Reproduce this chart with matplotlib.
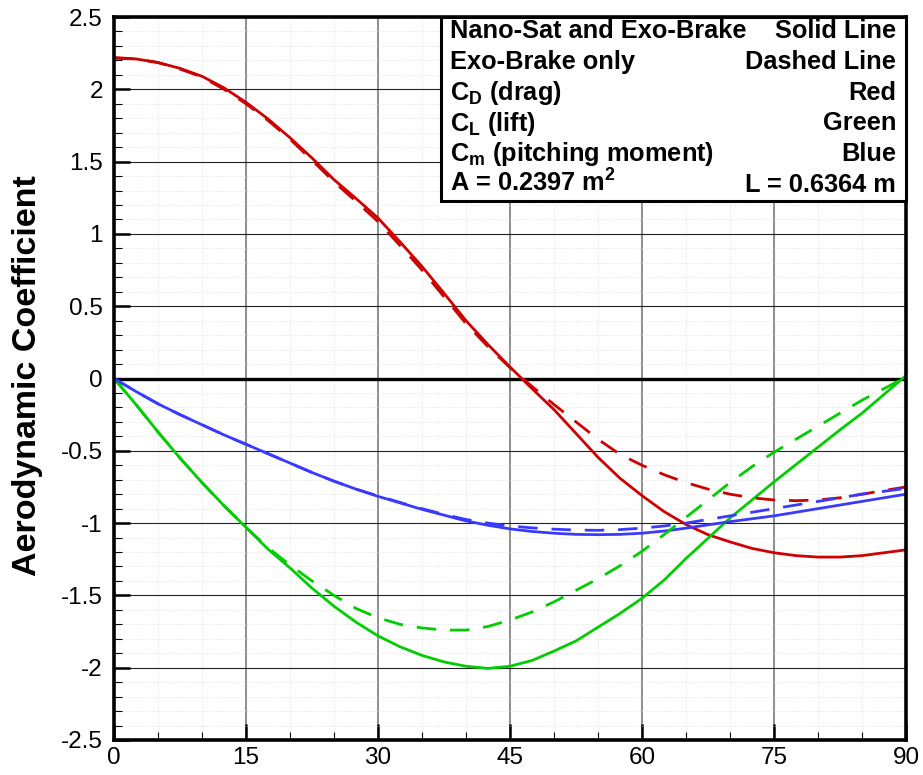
import matplotlib
matplotlib.use("Agg")
import matplotlib.pyplot as plt
from matplotlib.patches import Rectangle
from matplotlib.ticker import MultipleLocator, FixedLocator

plt.rcParams['font.family'] = ['Liberation Sans', 'DejaVu Sans']
plt.rcParams['mathtext.default'] = 'regular'

# angle of attack (deg)
alpha = [0, 2.5, 5, 7.5, 10, 12.5, 15, 17.5, 20, 22.5, 25, 27.5, 30, 32.5, 35, 37.5,
         40, 42.5, 45, 47.5, 50, 52.5, 55, 57.5, 60, 62.5, 65, 67.5, 70, 72.5, 75,
         77.5, 80, 82.5, 85, 87.5, 90]

# Nano-Sat and Exo-Brake (solid)
cd_full = [2.215, 2.21, 2.185, 2.145, 2.09, 2.01, 1.91, 1.795, 1.665, 1.525, 1.375,
           1.245, 1.11, 0.945, 0.775, 0.59, 0.40, 0.235, 0.08, -0.07, -0.215, -0.38,
           -0.545, -0.69, -0.81, -0.92, -1.01, -1.08, -1.13, -1.175, -1.205, -1.225,
           -1.235, -1.235, -1.225, -1.205, -1.185]
cl_full = [0.0, -0.18, -0.37, -0.55, -0.72, -0.88, -1.03, -1.18, -1.31, -1.45, -1.575,
           -1.685, -1.78, -1.855, -1.915, -1.96, -1.99, -2.005, -1.99, -1.95, -1.885,
           -1.815, -1.72, -1.625, -1.52, -1.395, -1.245, -1.105, -0.965, -0.84,
           -0.715, -0.595, -0.475, -0.355, -0.24, -0.11, 0.02]
cm_full = [0.0, -0.09, -0.175, -0.25, -0.32, -0.39, -0.455, -0.52, -0.585, -0.65,
           -0.71, -0.765, -0.815, -0.86, -0.905, -0.945, -0.985, -1.015, -1.04,
           -1.058, -1.07, -1.078, -1.08, -1.078, -1.07, -1.055, -1.035, -1.012,
           -0.99, -0.97, -0.95, -0.925, -0.90, -0.875, -0.85, -0.825, -0.80]

# Exo-Brake only (dashed)
cd_exo = [2.22, 2.21, 2.185, 2.14, 2.085, 2.0, 1.90, 1.785, 1.655, 1.51, 1.36,
          1.225, 1.085, 0.92, 0.75, 0.565, 0.38, 0.22, 0.075, -0.055, -0.18, -0.30,
          -0.42, -0.525, -0.60, -0.665, -0.72, -0.765, -0.80, -0.825, -0.84, -0.845,
          -0.84, -0.825, -0.80, -0.775, -0.75]
cl_exo = [0.0, -0.18, -0.37, -0.55, -0.72, -0.88, -1.03, -1.17, -1.29, -1.40, -1.50,
          -1.59, -1.655, -1.70, -1.725, -1.74, -1.74, -1.715, -1.67, -1.615, -1.545,
          -1.465, -1.385, -1.295, -1.195, -1.08, -0.96, -0.84, -0.72, -0.61, -0.51,
          -0.42, -0.33, -0.24, -0.15, -0.07, 0.01]
cm_exo = [0.0, -0.09, -0.175, -0.25, -0.32, -0.39, -0.455, -0.52, -0.585, -0.65,
          -0.71, -0.765, -0.812, -0.857, -0.90, -0.94, -0.975, -1.0, -1.02, -1.033,
          -1.042, -1.048, -1.05, -1.045, -1.035, -1.02, -1.0, -0.975, -0.95, -0.925,
          -0.90, -0.875, -0.85, -0.825, -0.80, -0.78, -0.76]

x_ticks = [0, 15, 30, 45, 60, 75, 90]
y_ticks = [-2.5, -2, -1.5, -1, -0.5, 0, 0.5, 1, 1.5, 2, 2.5]
y_tick_labels = ['-2.5', '-2', '-1.5', '-1', '-0.5', '0', '0.5', '1', '1.5', '2', '2.5']

legend_left = ['Nano-Sat and Exo-Brake', 'Exo-Brake only', 'C$_D$ (drag)',
               'C$_L$ (lift)', 'C$_m$ (pitching moment)', 'A = 0.2397 m$^2$']
legend_right = ['Solid Line', 'Dashed Line', 'Red', 'Green', 'Blue', 'L = 0.6364 m']

RED = '#cc0000'
GREEN = '#00cc00'
BLUE = '#3a3aff'

W, H = 923, 775
fig = plt.figure(figsize=(W / 100, H / 100), dpi=100)
ax = fig.add_axes([114 / W, 1 - 740 / H, 792 / W, 723 / H])

ax.set_xlim(0, 90)
ax.set_ylim(-2.5, 2.5)

lw = 2.0
dash = (7, 5)
ax.plot(alpha, cd_full, color=RED, lw=lw, zorder=4)
ax.plot(alpha, cl_full, color=GREEN, lw=lw, zorder=4)
ax.plot(alpha, cm_full, color=BLUE, lw=lw, zorder=4)
ax.plot(alpha, cd_exo, color=RED, lw=lw, dashes=dash, zorder=4)
ax.plot(alpha, cl_exo, color=GREEN, lw=lw, dashes=dash, zorder=4)
ax.plot(alpha, cm_exo, color=BLUE, lw=lw, dashes=dash, zorder=4)

ax.axhline(0, color='black', lw=2.4, zorder=3)

ax.xaxis.set_major_locator(FixedLocator(x_ticks))
ax.xaxis.set_minor_locator(MultipleLocator(5))
ax.yaxis.set_major_locator(FixedLocator(y_ticks))
ax.set_yticklabels(y_tick_labels)
ax.yaxis.set_minor_locator(MultipleLocator(0.1))

ax.grid(which='minor', color='#dcdcdc', ls=':', lw=0.6, zorder=1)
ax.xaxis.grid(which='major', color='#7a7a7a', lw=1.2, zorder=2)
ax.yaxis.grid(which='major', color='#222222', lw=0.8, zorder=2)

for s in ax.spines.values():
    s.set_linewidth(2.6)
    s.set_zorder(6)

ax.tick_params(which='major', direction='in', length=11.5, width=1.8,
               labelsize=17.5, top=False, right=False)
ax.tick_params(which='minor', direction='in', length=5.5, width=0.8,
               top=False, right=False)
ax.tick_params(axis='y', which='major', pad=8)
ax.tick_params(axis='x', which='major', pad=5)

fig.text(28 / W, 1 - 376 / H, 'Aerodynamic Coefficient', rotation=90,
         ha='center', va='center', fontsize=24.5, fontweight='bold')

# text box
box_l = (441 - 114) / 792
box_b = (740 - 201) / 723
ax.add_patch(Rectangle((box_l, box_b), 1 - box_l, 1 - box_b, transform=ax.transAxes,
                       facecolor='white', edgecolor='black', lw=2.2, zorder=7,
                       clip_on=False))
baselines = [38.5, 69, 100, 130.5, 161, 191.5]
for left, right, b in zip(legend_left, legend_right, baselines):
    yy = (740 - b) / 723
    ax.text((450 - 114) / 792, yy, left, transform=ax.transAxes, ha='left',
            va='baseline', fontsize=18.3, fontweight='bold', zorder=8)
    ax.text((896 - 114) / 792, yy, right, transform=ax.transAxes, ha='right',
            va='baseline', fontsize=18.3, fontweight='bold', zorder=8)

fig.savefig('out.png', dpi=100)
